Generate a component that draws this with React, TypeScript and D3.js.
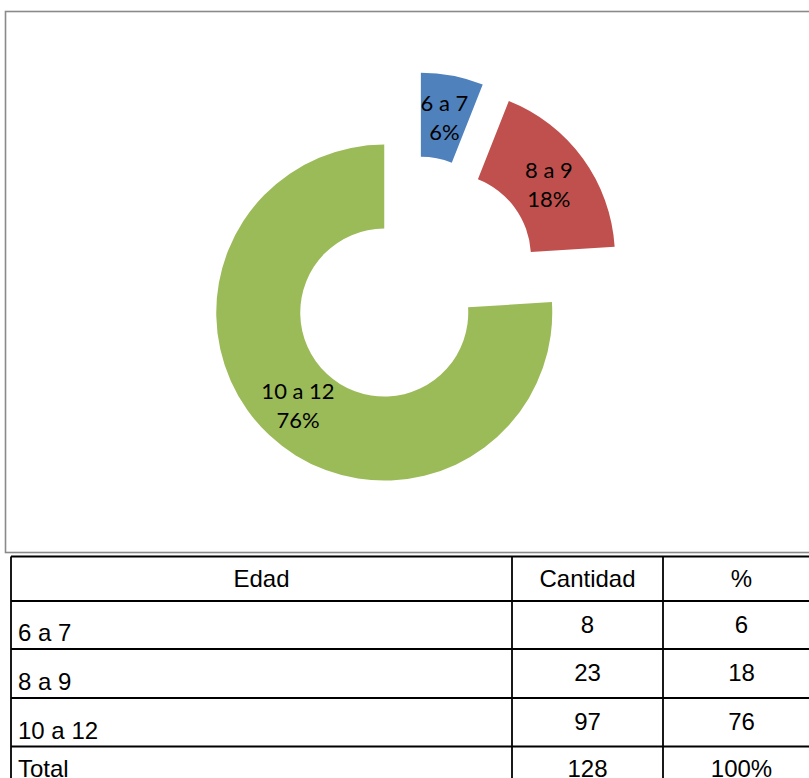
import React, { useEffect, useRef } from 'react';
import * as d3 from 'd3';

const categories = ['6 a 7', '8 a 9', '10 a 12'];
const counts = [8, 23, 97];
const percents = [6, 18, 76];
const totalLabel = 'Total';
const totalCount = '128';
const totalPercent = '100%';
const headers = ['Edad', 'Cantidad', '%'];
const colors = ['#4F81BD', '#C0504D', '#9BBB59'];

export default function App() {
  const ref = useRef<SVGSVGElement>(null);

  useEffect(() => {
    const svg = d3.select(ref.current);
    svg.selectAll('*').remove();

    const w = 809;
    const h = 778;

    // chart frame
    svg.append('rect')
      .attr('x', 5.5)
      .attr('y', 11.5)
      .attr('width', 830)
      .attr('height', 541)
      .attr('fill', 'white')
      .attr('stroke', '#8a8a8a')
      .attr('stroke-width', 1.6);

    // doughnut, every slice pulled out a bit
    const cx = 413;
    const cy = 282;
    const outerR = 168;
    const innerR = 84;
    const explode = 42;

    const pie = d3.pie<number>().sort(null).value(d => d);
    const arcs = pie(percents);
    const arc = d3.arc<d3.PieArcDatum<number>>()
      .innerRadius(innerR)
      .outerRadius(outerR);

    const g = svg.append('g').attr('transform', `translate(${cx},${cy})`);

    const slices = g.selectAll('g.slice')
      .data(arcs)
      .enter()
      .append('g')
      .attr('class', 'slice')
      .attr('transform', d => {
        const mid = (d.startAngle + d.endAngle) / 2;
        return `translate(${Math.sin(mid) * explode},${-Math.cos(mid) * explode})`;
      });

    slices.append('path')
      .attr('d', arc)
      .attr('fill', (d, i) => colors[i]);

    const labels = slices.append('text')
      .attr('transform', d => `translate(${arc.centroid(d)})`)
      .attr('text-anchor', 'middle')
      .attr('font-family', 'Lato, "Noto Sans", sans-serif')
      .attr('font-size', 22)
      .attr('fill', '#000');

    labels.append('tspan')
      .attr('x', 0)
      .attr('y', -14)
      .attr('dominant-baseline', 'central')
      .text((d, i) => categories[i]);

    labels.append('tspan')
      .attr('x', 0)
      .attr('y', 15)
      .attr('dominant-baseline', 'central')
      .text((d, i) => percents[i] + '%');

    // table
    const colX = [11, 512, 663, 820];
    const rowY = [556.5, 601, 649, 698, 746.5, 800];
    const t = svg.append('g')
      .attr('font-family', '"Liberation Sans", Arial, sans-serif')
      .attr('font-size', 24)
      .attr('fill', '#000');

    rowY.slice(0, 5).forEach(y => {
      t.append('line')
        .attr('x1', colX[0]).attr('x2', colX[3])
        .attr('y1', y).attr('y2', y)
        .attr('stroke', '#000').attr('stroke-width', 1.8);
    });
    colX.forEach(x => {
      t.append('line')
        .attr('x1', x).attr('x2', x)
        .attr('y1', rowY[0]).attr('y2', h + 10)
        .attr('stroke', '#000').attr('stroke-width', 1.8);
    });

    headers.forEach((hd, i) => {
      t.append('text')
        .attr('x', (colX[i] + colX[i + 1]) / 2)
        .attr('y', 587)
        .attr('text-anchor', 'middle')
        .text(hd);
    });

    const rows = categories.map((c, i) => [c, String(counts[i]), String(percents[i])]);
    rows.push([totalLabel, totalCount, totalPercent]);

    rows.forEach((r, i) => {
      const top = rowY[i + 1];
      const bottom = rowY[i + 2];
      const isTotal = i === rows.length - 1;
      const numY = isTotal ? top + 30.5 : top + 32;
      t.append('text')
        .attr('x', colX[0] + 7)
        .attr('y', isTotal ? top + 30.5 : bottom - 8)
        .text(r[0]);
      t.append('text')
        .attr('x', (colX[1] + colX[2]) / 2)
        .attr('y', numY)
        .attr('text-anchor', 'middle')
        .text(r[1]);
      t.append('text')
        .attr('x', (colX[2] + colX[3]) / 2)
        .attr('y', numY)
        .attr('text-anchor', 'middle')
        .text(r[2]);
    });

    svg.attr('width', w).attr('height', h);
  }, []);

  return (
    <svg
      ref={ref}
      width={809}
      height={778}
      style={{ position: 'absolute', left: 0, top: 0, background: 'white' }}
    />
  );
}
